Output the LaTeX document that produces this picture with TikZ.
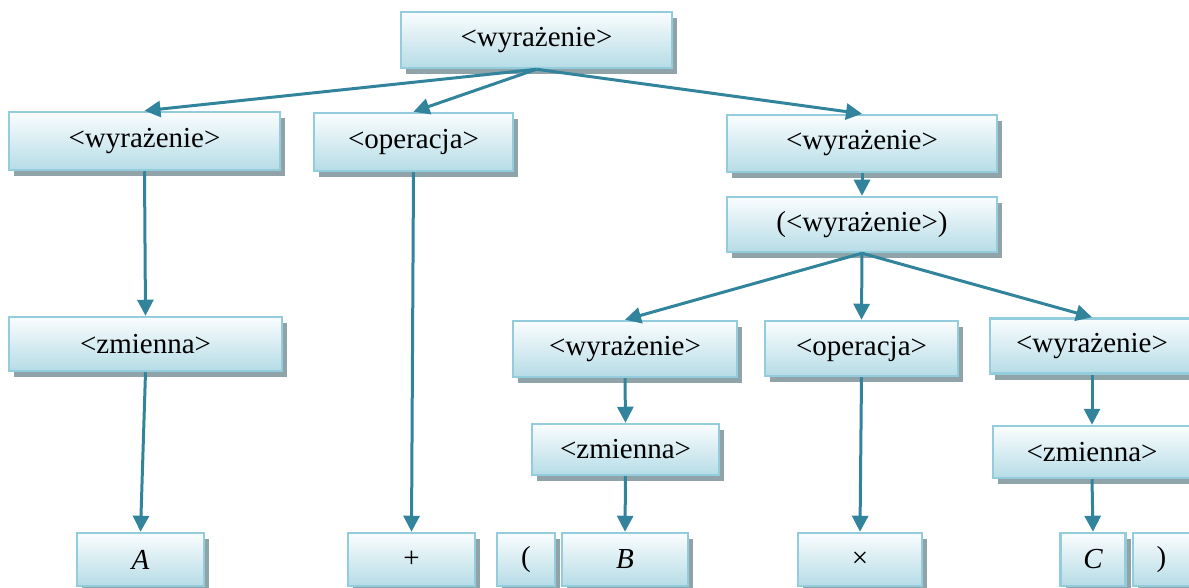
\documentclass[tikz,border=0pt]{standalone}
\usepackage{fontspec}
\setmainfont{Liberation Serif}
\usetikzlibrary{arrows.meta,shadows}
\definecolor{boxtop}{HTML}{FAFDFE}
\definecolor{boxbot}{HTML}{B6DCE6}
\definecolor{boxborder}{HTML}{93CDDD}
\definecolor{shadowcol}{HTML}{8FA3A9}
\definecolor{arrowcol}{HTML}{31849B}
\tikzset{
  box/.style={draw=boxborder, line width=2.5pt, top color=boxtop, bottom color=boxbot,
    general shadow={fill=shadowcol, shadow xshift=5pt, shadow yshift=-6pt},
    inner sep=0pt, font=\fontsize{29}{34}\selectfont, text=black, anchor=center},
  conn/.style={draw=arrowcol, line width=3pt, -{Triangle[length=16pt,width=16pt]}},
}
\begin{document}
\begin{tikzpicture}[x=1pt,y=-1pt]
\useasboundingbox (0,0) rectangle (1189,588);
\clip (0,0) rectangle (1189,588);
% row 0
\node[box, minimum width=271pt, minimum height=56pt] (top) at (536.5,40) {<wyrażenie>};
% row 1
\node[box, minimum width=271pt, minimum height=58pt] (wA) at (144.5,141) {<wyrażenie>};
\node[box, minimum width=199pt, minimum height=58pt] (op1) at (413.5,142) {<operacja>};
\node[box, minimum width=270pt, minimum height=57pt] (wR) at (862,143.5) {<wyrażenie>};
\node[box, minimum width=270pt, minimum height=55pt] (par) at (862,224.5) {(<wyrażenie>)};
% row 2
\node[box, minimum width=273pt, minimum height=54pt] (zA) at (145.5,344) {<zmienna>};
\node[box, minimum width=224pt, minimum height=56pt] (wB) at (625,349) {<wyrażenie>};
\node[box, minimum width=193pt, minimum height=55pt] (op2) at (861.5,348.5) {<operacja>};
\node[box, minimum width=204pt, minimum height=55pt] (wC) at (1092,346) {<wyrażenie>};
% row 3
\node[box, minimum width=187pt, minimum height=51pt] (zB) at (625.5,449.5) {<zmienna>};
\node[box, minimum width=198pt, minimum height=52pt] (zC) at (1092,452) {<zmienna>};
% row 4
\node[box, minimum width=127pt, minimum height=53pt] (lA) at (140.5,559.5) {\itshape A};
\node[box, minimum width=127pt, minimum height=53pt] (lplus) at (411.5,559.5) {+};
\node[box, minimum width=58pt, minimum height=53pt] (lopen) at (526,559.5) {(};
\node[box, minimum width=126pt, minimum height=53pt] (lB) at (625,559.5) {\itshape B};
\node[box, minimum width=124pt, minimum height=53pt] (ltimes) at (860,559.5) {×};
\node[box, minimum width=65pt, minimum height=53pt] (lC) at (1093,559.5) {\itshape C};
\node[box, minimum width=57pt, minimum height=53pt] (lclose) at (1161.5,559.5) {)};
% connectors
\draw[conn] (top.south) -- (wA.north);
\draw[conn] (top.south) -- (op1.north);
\draw[conn] (top.south) -- (wR.north);
\draw[conn] (wA.south) -- (zA.north);
\draw[conn] (zA.south) -- (lA.north);
\draw[conn] (op1.south) -- (lplus.north);
\draw[conn] (wR.south) -- (par.north);
\draw[conn] (par.south) -- (wB.north);
\draw[conn] (par.south) -- (op2.north);
\draw[conn] (par.south) -- (wC.north);
\draw[conn] (wB.south) -- (zB.north);
\draw[conn] (zB.south) -- (lB.north);
\draw[conn] (op2.south) -- (ltimes.north);
\draw[conn] (wC.south) -- (zC.north);
\draw[conn] (zC.south) -- (lC.north);
\end{tikzpicture}
\end{document}
